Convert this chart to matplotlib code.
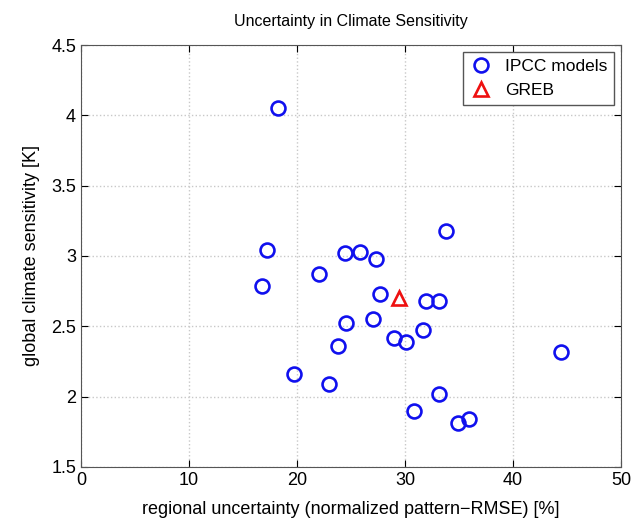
import matplotlib
matplotlib.use("Agg")
import matplotlib.pyplot as plt

plt.rcParams["font.family"] = ["Liberation Sans", "DejaVu Sans"]

# IPCC models: regional uncertainty [%] vs global climate sensitivity [K]
ipcc_rmse = [18.2, 17.2, 16.8, 22.0, 24.4, 25.8, 27.3, 33.8, 27.7, 31.9, 33.1, 27.0,
             24.5, 29.0, 30.1, 31.7, 23.8, 19.7, 23.0, 33.1, 30.8, 34.9, 35.9, 44.4]
ipcc_sens = [4.05, 3.04, 2.79, 2.87, 3.02, 3.03, 2.98, 3.18, 2.73, 2.68, 2.68, 2.55,
             2.52, 2.42, 2.39, 2.47, 2.36, 2.16, 2.09, 2.02, 1.90, 1.81, 1.84, 2.32]

greb_rmse = [29.4]
greb_sens = [2.70]

fig = plt.figure(figsize=(6.32, 5.24), dpi=100)
ax = fig.add_axes([0.128, 0.109, 0.855, 0.805])

ax.plot(ipcc_rmse, ipcc_sens, "o", mfc="none", mec="#1010ee", mew=1.9, ms=10, label="IPCC models")
ax.plot(greb_rmse, greb_sens, "^", mfc="none", mec="#ee1010", mew=1.9, ms=10, label="GREB")

ax.set_xlim(0, 50)
ax.set_ylim(1.5, 4.5)
ax.set_xticks([0, 10, 20, 30, 40, 50])
ax.set_yticks([1.5, 2, 2.5, 3, 3.5, 4, 4.5])
ax.set_yticklabels(["1.5", "2", "2.5", "3", "3.5", "4", "4.5"])
ax.grid(True, linestyle=":", color="#c8c8c8", linewidth=1)
ax.tick_params(direction="in", top=True, right=True, labelsize=13, length=5)
for s in ax.spines.values():
    s.set_color("#555555")

ax.set_title("Uncertainty in Climate Sensitivity", fontsize=11.5, pad=14)
ax.set_xlabel("regional uncertainty (normalized pattern\u2212RMSE) [%]", fontsize=13, labelpad=9)
ax.set_ylabel("global climate sensitivity [K]", fontsize=13, labelpad=8)

leg = ax.legend(loc="upper right", fontsize=12.5, fancybox=False, framealpha=1,
                edgecolor="#555555", handlelength=1.2, borderaxespad=0.4)

fig.savefig("out.png", dpi=100)
